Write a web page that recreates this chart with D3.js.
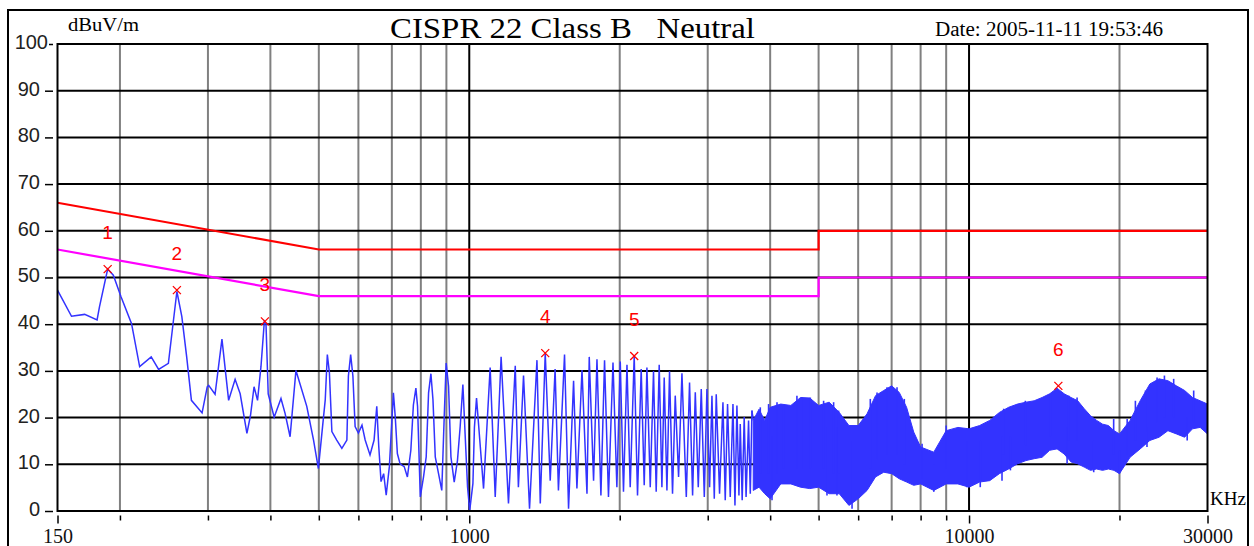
<!DOCTYPE html>
<html><head><meta charset="utf-8">
<script src="https://cdn.jsdelivr.net/npm/d3@7"></script>
<style>
html,body{margin:0;padding:0;background:#fff;}
svg{display:block;}
</style></head><body>
<svg id="c" width="1254" height="546"></svg>
<script>
const titleText = "CISPR 22 Class B   Neutral";
const dateText = "Date: 2005-11-11 19:53:46";
const yUnit = "dBuV/m";
const xUnit = "KHz";
const yTicks = [0,10,20,30,40,50,60,70,80,90,100];
const xTickLabels = [150,1000,10000,30000];
const gridFreq = [200,300,400,500,600,700,800,900,1000,2000,3000,4000,5000,6000,7000,8000,9000,10000,20000];
const majorFreq = [1000,10000];

const limitFreq = [150,500,5000,5000,30000];
const qpLimit = [66,56,56,60,60];
const avLimit = [56,46,46,50,50];

const traceFreq = [150,160,170,180,182,189,194,201,211,219,231,239,250,255,260,266,272,278,292,299,301,310,320,330,340,348,359,365,371,377,383,389,392,396,407,420,428,438,450,473,488,499,507,515,520,525,531,543,556,569,573,579,585,591,600,610,619,633,645,653,659,666,674,682,692,705,711,718,727,741,752,764,773,782,788,798,810,820,829,838,846,855,868,881,891,899,909,919,933,947,959,971,981,992,1002,1017,1024,
1034,1068,1101,1127,1158,1198,1236,1254,1284,1320,1366,1387,1419,1452,1485,1508,1551,1580,1617,1642,1681,1720,1738,1773,1801,1834,1865,1899,1939,1974,2005,2035,2068,2099,2138,2171,2208,2239,2267,2302,2337,2366,2399,2429,2455,2486,2516,2551,2583,2623,2664,2718,2759,2798,2833,2872,2912,2953,2989,3026,3059,3092,3120,3168,3218,3252,3287,3328,3370,3401,3432,3464,3485,3516,3549,3580,3621,3650,3678];
const traceLevel = [47.3,41.7,42.1,40.9,43.7,51.8,50.5,45.9,40.1,30.9,33.0,30.3,31.6,39.4,47.0,41.6,33.0,23.7,21.0,26.6,26.9,25.0,36.8,23.7,28.2,25.1,16.6,20.5,26.6,23.7,30.9,40.6,40.0,25.1,20.1,24.1,20.9,15.9,30.1,22.4,15.2,9.1,16.5,23.8,33.5,29.6,17.0,15.2,13.4,15.2,28.9,33.5,28.9,18.1,16.7,18.4,15.2,12.0,15.2,22.4,13.8,6.3,8.0,3.4,9.5,25.3,20.2,12.3,10.1,9.5,7.3,13.0,22.7,26.3,22.4,3.0,7.3,11.6,25.3,29.4,23.8,11.6,8.0,4.4,20.2,31.7,26.7,11.6,6.2,10.8,18.1,27.1,16.5,5.2,0.1,5.9,17.9,
24.2,4.8,30.7,3.0,33.0,1.6,31.1,5.1,29.0,0.5,32.3,1.6,33.8,6.5,30.4,4.4,33.5,0.5,27.9,4.8,30.2,3.7,33.0,6.5,32.5,3.3,32.3,3.0,31.8,5.1,32.0,4.1,31.3,5.1,33.2,3.3,30.4,5.5,30.7,5.1,30.0,4.1,31.3,5.1,28.6,4.4,29.9,3.7,24.7,7.3,29.5,3.0,27.5,3.3,25.4,5.1,26.1,3.0,26.1,5.1,24.7,2.6,25.0,3.7,23.3,2.3,22.9,3.0,22.9,1.2,22.6,3.3,18.6,2.3,20.1,3.0,19.4,3.7,21.5];

const bandFreq = [3700,3800,3900,4000,4200,4400,4600,4800,5000,5250,5500,5750,6000,6250,6500,6750,7000,7250,7500,7750,8000,8500,9000,9500,10000,10500,11000,11500,12000,12500,13000,13500,14000,14500,15000,15500,16000,16500,17000,17500,18000,18500,19000,19500,20000,21000,22000,23000,24000,25000,26000,27000,28000,29000,30000];
const bandHigh = [19.4,21.8,19.4,22.2,22.9,22.6,24.3,24.2,22.6,23.3,21.1,18.3,18.3,20.8,24.7,25.8,26.8,25.4,22.2,16.9,13.7,12.6,17.2,17.9,17.6,18.3,19.4,21.1,22.2,22.9,23.3,23.6,24.3,25.1,26.3,25.1,24.3,23.6,21.9,20.4,19.4,18.6,18.3,17.2,16.5,19.4,23.6,27.2,28.3,27.9,26.8,25.8,24.3,23.6,22.9];
const bandLow = [4.4,5.1,3.7,2.6,5.8,5.8,5.1,4.8,5.1,3.7,3.7,1.2,2.6,4.4,7.3,8.3,8.0,6.9,6.2,5.5,5.8,4.4,5.8,5.8,5.1,6.2,6.5,8.0,9.0,10.1,10.8,11.2,11.5,13.0,13.3,12.2,10.5,10.1,9.4,8.7,9.0,8.7,9.0,8.7,8.0,11.5,13.3,15.1,15.8,17.2,16.5,15.8,17.6,17.9,16.5];

// isolated spikes sticking out of the dense band (freq kHz, top, bottom)
const spikeFreq = [3822,3971,4034,4128,4255,4525,4631,4813,5117,5197,5358,5441,5483,5833,6345,6545,6853,7176,7421,8054,8500,9000,9900,10530,11640,11730,12100,12960,14540,15710,15830,16450,17760,19470,20000,20720,21520,22540,22700,23780,24600,25670,27320,28150];
const spikeHigh = [22.2,22.9,16.0,23.3,22.6,24.7,24.3,24.3,23.6,18.0,23.3,18.0,21.5,15.0,24.0,25.4,26.5,26.5,24.0,14.4,10.0,18.3,15.0,15.0,16.0,21.9,16.0,23.6,25.1,18.0,24.7,24.3,15.0,19.7,13.0,19.7,23.6,25.8,18.0,28.6,29.0,28.3,20.0,25.8];
const spikeLow = [8.0,8.0,2.3,8.0,9.0,9.0,9.0,9.0,9.0,3.3,8.0,3.3,8.0,0.5,9.0,11.0,12.0,12.0,10.0,7.0,4.1,9.0,5.1,5.1,6.5,12.0,8.7,14.0,16.0,10.1,15.0,15.0,8.3,12.0,8.0,12.0,15.0,17.0,13.7,19.0,20.0,20.0,15.1,19.0];

const markerFreq = [189,260,390,1419,2138,15090];
const markerLevel = [51.8,47.3,40.6,33.8,33.2,26.8];
const markerName = ["1","2","3","4","5","6"];

const svg = d3.select("#c");
const L = 57.5, R = 1207.5, T = 44, B = 511;
const x = d3.scaleLog().domain([150,30000]).range([L,R]);
const y = d3.scaleLinear().domain([0,100]).range([B,T]);

// outer frame
svg.append("rect").attr("x",8).attr("y",10).attr("width",1240).attr("height",560)
  .attr("fill","#fff").attr("stroke","#000").attr("stroke-width",2);

// plot background
svg.append("rect").attr("x",L).attr("y",T).attr("width",R-L).attr("height",B-T).attr("fill","#fff");

// vertical grid
svg.append("g").selectAll("line").data(gridFreq).join("line")
  .attr("x1",d=>x(d)).attr("x2",d=>x(d)).attr("y1",T).attr("y2",B)
  .attr("stroke",d=>majorFreq.includes(d)?"#000":"#808080").attr("stroke-width",2);
// horizontal grid
svg.append("g").selectAll("line").data(yTicks).join("line")
  .attr("x1",L).attr("x2",R).attr("y1",d=>y(d)).attr("y2",d=>y(d))
  .attr("stroke","#000").attr("stroke-width",2);

// limit lines
const limLine = (vals) => d3.line().x((d,i)=>x(limitFreq[i])).y((d,i)=>y(vals[i]))(vals);
svg.append("path").attr("d",limLine(qpLimit)).attr("fill","none").attr("stroke","#ff0000").attr("stroke-width",2.2);
svg.append("path").attr("d",limLine(avLimit)).attr("fill","none").attr("stroke","#ff00ff").attr("stroke-width",2.2);

// trace
const blue = "#3333ff";
svg.append("path")
  .attr("d", d3.line().x((d,i)=>x(traceFreq[i])).y(d=>y(d))(traceLevel))
  .attr("fill","none").attr("stroke",blue).attr("stroke-width",1.5).attr("stroke-linejoin","miter");
svg.append("path")
  .attr("d", d3.area().x((d,i)=>x(bandFreq[i])).y0((d,i)=>y(bandLow[i])).y1(d=>y(d))(bandHigh))
  .attr("fill",blue).attr("stroke",blue).attr("stroke-width",1);
svg.append("g").selectAll("line").data(spikeFreq).join("line")
  .attr("x1",d=>x(d)).attr("x2",d=>x(d)).attr("y1",(d,i)=>y(spikeLow[i])).attr("y2",(d,i)=>y(spikeHigh[i]))
  .attr("stroke",blue).attr("stroke-width",1.6);
// join trace to band
svg.append("path")
  .attr("d", d3.line().x(d=>x(d[0])).y(d=>y(d[1]))([[traceFreq[traceFreq.length-1],traceLevel[traceLevel.length-1]],[bandFreq[0],bandHigh[0]]]))
  .attr("stroke",blue).attr("stroke-width",1.5).attr("fill","none");

// markers
const mk = svg.append("g");
markerFreq.forEach((f,i)=>{
  const cx = x(f), cy = y(markerLevel[i]);
  mk.append("path").attr("d",`M${cx-4},${cy-4}L${cx+4},${cy+4}M${cx-4},${cy+4}L${cx+4},${cy-4}`)
    .attr("stroke","#ff0000").attr("stroke-width",1.3);
  mk.append("text").attr("x",cx).attr("y",cy-30).attr("text-anchor","middle")
    .attr("font-family","Liberation Sans, Arial, sans-serif").attr("font-size",19)
    .attr("fill","#ff0000").text(markerName[i]);
});

// plot border
svg.append("rect").attr("x",L).attr("y",T).attr("width",R-L).attr("height",B-T)
  .attr("fill","none").attr("stroke","#000").attr("stroke-width",2);

// y axis
const ya = svg.append("g").attr("transform","translate(53,0)")
  .call(d3.axisLeft(y).tickValues(yTicks).tickSize(8).tickPadding(5).tickFormat(d3.format("d")));
ya.select(".domain").remove();
ya.selectAll(".tick line").attr("stroke","#000").attr("stroke-width",1.5);
ya.selectAll(".tick text").attr("font-family","Liberation Sans, Arial, sans-serif").attr("font-size",20)
  .attr("fill","#222").attr("dy","0.22em");
ya.selectAll(".tick").filter(d=>d===100).select("line").attr("x2",-4);
ya.selectAll(".tick").filter(d=>d===100).select("text").attr("x",-5);

// x axis
const xa = svg.append("g").attr("transform","translate(0,515.5)")
  .call(d3.axisBottom(x).tickValues([150,...gridFreq,30000]).tickSize(5).tickPadding(8)
    .tickFormat(d=>xTickLabels.includes(d)?String(d):""));
xa.select(".domain").remove();
xa.selectAll(".tick line").attr("stroke","#000").attr("stroke-width",1.5)
  .attr("y2",d=>xTickLabels.includes(d)?8:5);
xa.selectAll(".tick text").attr("font-family","Liberation Serif, Times New Roman, serif").attr("font-size",20)
  .attr("fill","#111");

// texts
svg.append("text").attr("x",68).attr("y",31).attr("font-family","Liberation Serif, serif").attr("font-size",19)
  .attr("textLength",71).attr("lengthAdjust","spacingAndGlyphs").text(yUnit);
svg.append("text").attr("x",390).attr("y",38).attr("font-family","Liberation Serif, serif").attr("font-size",30)
  .style("white-space","pre").attr("textLength",365).attr("lengthAdjust","spacingAndGlyphs").text(titleText);
svg.append("text").attr("x",935).attr("y",36).attr("font-family","Liberation Serif, serif").attr("font-size",20)
  .attr("textLength",228).attr("lengthAdjust","spacingAndGlyphs").text(dateText);
svg.append("text").attr("x",1210).attr("y",505).attr("font-family","Liberation Serif, serif").attr("font-size",19)
  .attr("textLength",36).attr("lengthAdjust","spacingAndGlyphs").text(xUnit);
</script>
</body></html>
